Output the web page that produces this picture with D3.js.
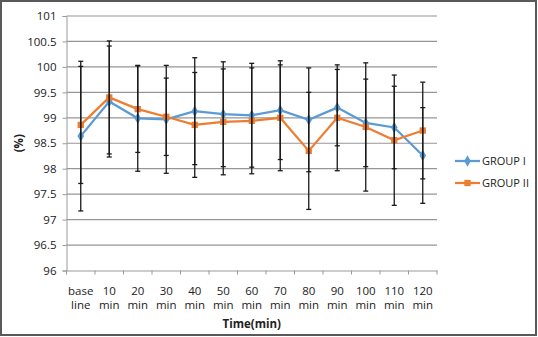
<!DOCTYPE html>
<html lang="en">
<head>
  <meta charset="UTF-8">
  <title>Group I vs Group II</title>
  <style type="text/css">
       body{
          margin:0;
          background:#fff;
       }
       text{ font-family: "Open Sans", "Liberation Sans", sans-serif; fill:#222; }
  </style>
  <script src="https://d3js.org/d3.v7.min.js"></script>
</head>
<body>
   <svg></svg>
   <script>
          const W = 538, H = 337;
          const margin = {top:16, left:66.5, bottom:66.5, right:101};
          const width = W - margin.left - margin.right;
          const height = H - margin.top - margin.bottom;

          // categories (two line labels)
          var categories = ["base line","10 min","20 min","30 min","40 min","50 min","60 min",
                            "70 min","80 min","90 min","100 min","110 min","120 min"];
          var yTicks = [96,96.5,97,97.5,98,98.5,99,99.5,100,100.5,101];

          var group1Mean = [98.64,99.32,98.99,98.97,99.13,99.07,99.05,99.15,98.96,99.20,98.90,98.81,98.26];
          var group1Sd   = [1.47,1.09,1.04,1.06,1.05,1.03,1.02,0.97,1.02,0.75,0.86,0.81,0.94];
          var group2Mean = [98.86,99.40,99.17,99.02,98.86,98.92,98.94,99.00,98.35,99.00,98.82,98.56,98.75];
          var group2Sd   = [1.15,1.11,0.85,0.76,1.03,1.04,1.04,1.04,1.15,1.04,1.26,1.28,0.95];

          const svg0 = d3.select("svg")
                       .attr("width",W)
                       .attr("height",H);

          // outer frame
          svg0.append("rect")
              .attr("x",1).attr("y",1)
              .attr("width",W-3).attr("height",H-3)
              .attr("fill","#fff")
              .attr("stroke","#595959")
              .attr("stroke-width",2);

          const svg = svg0.append("g")
                       .attr("transform",`translate(${margin.left},${margin.top})`);

          //define Scale
          const xScale = d3.scaleBand()
                  .domain(categories)
                  .range([0,width]);

          const yScale = d3.scaleLinear()
                  .domain([96,101])
                  .range([height,0]);

          const cx = d => xScale(d) + xScale.bandwidth()/2;

          // grid
          svg.append("g")
             .selectAll("line")
             .data(yTicks.filter(d => d > 96))
             .enter()
             .append("line")
             .attr("x1",0).attr("x2",width)
             .attr("y1",d => yScale(d)).attr("y2",d => yScale(d))
             .attr("stroke","#969696")
             .attr("stroke-width",1.2);

          // y axis
          const yAxis = d3.axisLeft(yScale)
                   .tickValues(yTicks)
                   .tickSize(4)
                   .tickPadding(6)
                   .tickFormat(d => d);
          const yG = svg.append("g").call(yAxis);
          yG.select(".domain").attr("stroke","#9a9a9a");
          yG.selectAll(".tick line").attr("stroke","#9a9a9a");
          yG.selectAll(".tick text").attr("font-size","11.5px").attr("fill","#222");

          // x axis
          const xAxis = d3.axisBottom(xScale).tickSize(0).tickFormat("");
          const xG = svg.append("g")
             .attr("transform",`translate(0,${height})`)
             .call(xAxis);
          xG.select(".domain").attr("stroke","#9a9a9a");
          xG.selectAll(".bt")
             .data(d3.range(categories.length + 1))
             .enter()
             .append("line")
             .attr("x1",i => i * xScale.bandwidth())
             .attr("x2",i => i * xScale.bandwidth())
             .attr("y1",0).attr("y2",4)
             .attr("stroke","#9a9a9a");

          const xl = svg.append("g").selectAll("text")
             .data(categories)
             .enter()
             .append("text")
             .attr("text-anchor","middle")
             .attr("font-size","11.5px")
             .attr("x",d => cx(d))
             .attr("y",height + 24);
          xl.append("tspan").attr("x",d => cx(d)).text(d => d.split(" ")[0]);
          xl.append("tspan").attr("x",d => cx(d)).attr("dy",14.5).text(d => d.split(" ")[1]);

          svg.append("text")
             .attr("text-anchor","middle")
             .attr("font-size","11.5px")
             .attr("font-weight","bold")
             .attr("x",width/2 + 0)
             .attr("y",height + 57)
             .text("Time(min)");

          svg.append("text")
             .attr("text-anchor","middle")
             .attr("font-size","11.5px")
             .attr("font-weight","bold")
             .attr("transform",`translate(${-44},${yScale(98.5)}) rotate(-90)`)
             .text("(%)");

          var series = [
             {name:"GROUP I", mean:group1Mean, sd:group1Sd, color:"#5B9BD5", shape:d3.symbolDiamond, size:38},
             {name:"GROUP II", mean:group2Mean, sd:group2Sd, color:"#ED7D31", shape:d3.symbolSquare, size:40}
          ];

          const line = d3.line()
             .x((d,i) => cx(categories[i]))
             .y(d => yScale(d));

          series.forEach(function(s){
             svg.append("path")
                .attr("d",line(s.mean))
                .attr("fill","none")
                .attr("stroke",s.color)
                .attr("stroke-width",2.25);
             svg.append("g").selectAll("path")
                .data(s.mean)
                .enter()
                .append("path")
                .attr("d",d3.symbol().type(s.shape).size(s.size))
                .attr("transform",(d,i) => `translate(${cx(categories[i])},${yScale(d)})`)
                .attr("fill",s.color);
          });

          // error bars
          series.forEach(function(s){
             const eg = svg.append("g").selectAll("g")
                .data(s.mean)
                .enter()
                .append("g")
                .attr("stroke","#1a1a1a")
                .attr("stroke-width",1.3);
             eg.append("line")
                .attr("x1",(d,i) => cx(categories[i])).attr("x2",(d,i) => cx(categories[i]))
                .attr("y1",(d,i) => yScale(d - s.sd[i])).attr("y2",(d,i) => yScale(d + s.sd[i]));
             [-1,1].forEach(function(k){
                eg.append("line")
                  .attr("x1",(d,i) => cx(categories[i]) - 2.5).attr("x2",(d,i) => cx(categories[i]) + 2.5)
                  .attr("y1",(d,i) => yScale(d + k*s.sd[i])).attr("y2",(d,i) => yScale(d + k*s.sd[i]));
             });
          });

          // legend
          const lg = svg0.append("g").attr("transform","translate(455,161)");
          series.forEach(function(s,i){
             const g = lg.append("g").attr("transform",`translate(0,${i*22})`);
             g.append("line").attr("x1",0).attr("x2",25).attr("stroke",s.color).attr("stroke-width",2.25);
             g.append("path").attr("d",d3.symbol().type(s.shape).size(s.size)).attr("transform","translate(12.5,0)").attr("fill",s.color);
             g.append("text").attr("x",27).attr("y",4).attr("font-size","11px").text(s.name);
          });
   </script>
</body>
</html>
